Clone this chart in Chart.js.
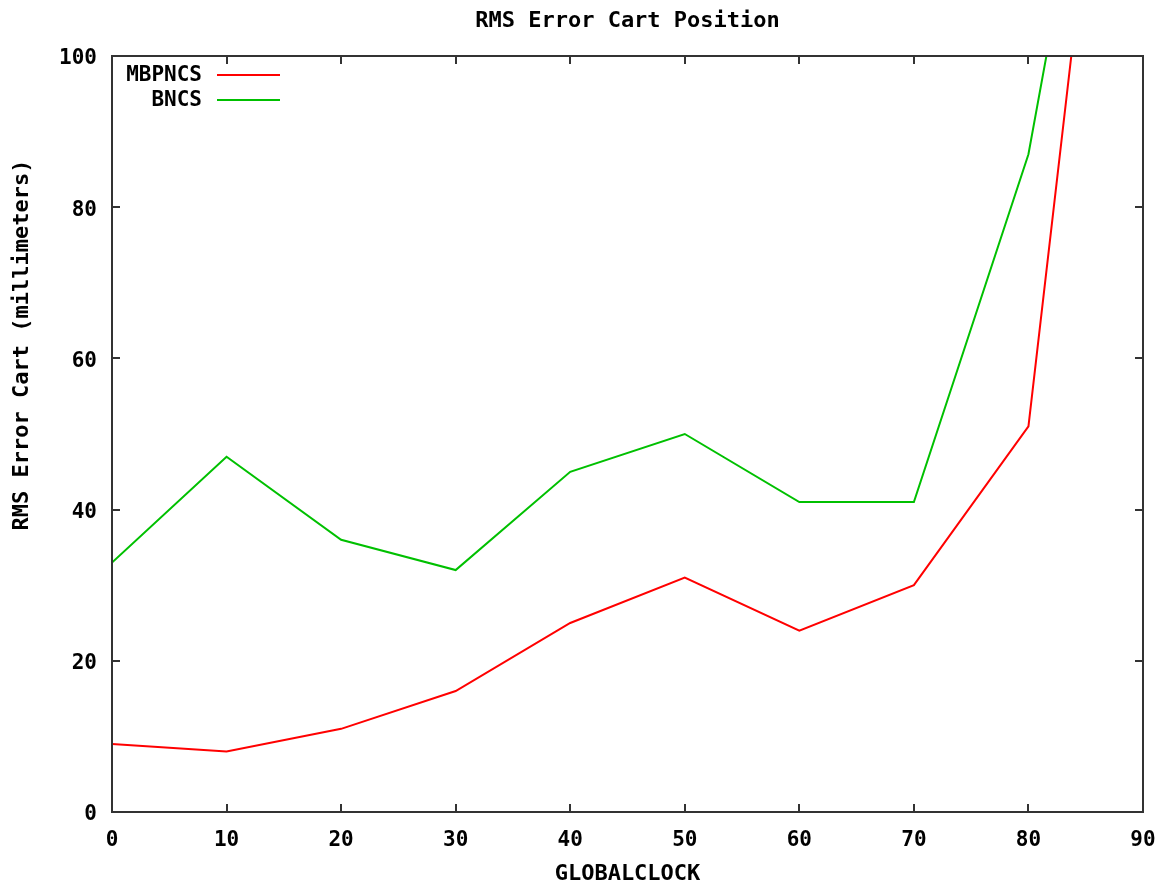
<!DOCTYPE html>
<html>
<head>
<meta charset="utf-8">
<script src="https://cdn.jsdelivr.net/npm/chart.js@4"></script>
<style>
  html, body { margin: 0; padding: 0; background: #fff; }
  #wrap { width: 1171px; height: 886px; }
</style>
</head>
<body>
<div id="wrap"><canvas id="my-chart" width="1171" height="886"></canvas></div>
<script>
// values
const clock = [0, 10, 20, 30, 40, 50, 60, 70, 80, 90];
const mbpncs = [9, 8, 11, 16, 25, 31, 24, 30, 51, 182];
const bncs = [33, 47, 36, 32, 45, 50, 41, 41, 87, 170];

const seriesNames = ['MBPNCS', 'BNCS'];
const seriesColors = ['#ff0000', '#00c000'];

const chartTitle = 'RMS Error Cart Position';
const xTitle = 'GLOBALCLOCK';
const yTitle = 'RMS Error Cart (millimeters)';

const font = "'DejaVu Sans Mono', monospace";
const bold = 'bold 21px ' + font;

const toPoints = (ys) => clock.map((x, i) => ({ x: x, y: ys[i] }));

// gnuplot style frame, inward ticks on all sides, titles and legend
const gnuFrame = {
  id: 'gnuFrame',
  afterDatasetsDraw(chart) {
    const { ctx, chartArea: a, scales } = chart;
    ctx.save();
    ctx.strokeStyle = '#333';
    ctx.lineWidth = 2;
    const t = 8;
    ctx.beginPath();
    scales.x.ticks.forEach(tk => {
      const px = Math.round(scales.x.getPixelForValue(tk.value));
      ctx.moveTo(px, a.bottom); ctx.lineTo(px, a.bottom - t);
      ctx.moveTo(px, a.top); ctx.lineTo(px, a.top + t);
    });
    scales.y.ticks.forEach(tk => {
      const py = Math.round(scales.y.getPixelForValue(tk.value));
      ctx.moveTo(a.left, py); ctx.lineTo(a.left + t, py);
      ctx.moveTo(a.right, py); ctx.lineTo(a.right - t, py);
    });
    ctx.stroke();
    ctx.strokeRect(Math.round(a.left), Math.round(a.top), Math.round(a.right - a.left), Math.round(a.bottom - a.top));

    ctx.font = 'bold 22px ' + font;
    ctx.fillStyle = '#000';
    ctx.textBaseline = 'middle';
    ctx.textAlign = 'center';
    const cx = (a.left + a.right) / 2;
    ctx.fillText(chartTitle, cx, 21);
    ctx.fillText(xTitle, cx, 874);
    ctx.save();
    ctx.translate(22, 345);
    ctx.rotate(-Math.PI / 2);
    ctx.fillText(yTitle, 0, 0);
    ctx.restore();

    // legend
    ctx.font = bold;
    ctx.textAlign = 'right';
    seriesNames.forEach((name, i) => {
      const y = a.top + 19 + i * 25;
      ctx.fillStyle = '#000';
      ctx.fillText(name, a.left + 90, y + 1);
      ctx.strokeStyle = seriesColors[i];
      ctx.lineWidth = 2;
      ctx.beginPath();
      ctx.moveTo(a.left + 105, y);
      ctx.lineTo(a.left + 168, y);
      ctx.stroke();
    });
    ctx.restore();
  }
};

const ctx = document.getElementById('my-chart').getContext('2d');
const lineChart = new Chart(ctx, {
  type: 'line',
  data: {
    datasets: [
      {
        label: seriesNames[0],
        data: toPoints(mbpncs),
        borderColor: seriesColors[0],
        borderWidth: 2,
        pointRadius: 0,
        tension: 0,
        fill: false,
      },
      {
        label: seriesNames[1],
        data: toPoints(bncs),
        borderColor: seriesColors[1],
        borderWidth: 2,
        pointRadius: 0,
        tension: 0,
        fill: false,
      }
    ],
  },
  options: {
    responsive: false,
    animation: false,
    layout: {
      padding: { left: 0, right: 28, top: 56, bottom: 0 }
    },
    plugins: {
      legend: { display: false },
      tooltip: { enabled: false },
      title: { display: false },
    },
    scales: {
      x: {
        type: 'linear',
        min: 0,
        max: 90,
        ticks: {
          stepSize: 10,
          color: '#000',
          padding: 8,
          font: { family: font, size: 21, weight: 'bold' },
        },
        grid: { display: false },
        border: { display: false },
        afterFit(scale) { scale.height = 74; },
      },
      y: {
        min: 0,
        max: 100,
        ticks: {
          stepSize: 20,
          color: '#000',
          padding: 7,
          labelOffset: 3,
          font: { family: font, size: 21, weight: 'bold' },
        },
        grid: { display: false },
        border: { display: false },
        afterFit(scale) { scale.width = 112; },
      },
    },
  },
  plugins: [gnuFrame],
});
</script>
</body>
</html>
